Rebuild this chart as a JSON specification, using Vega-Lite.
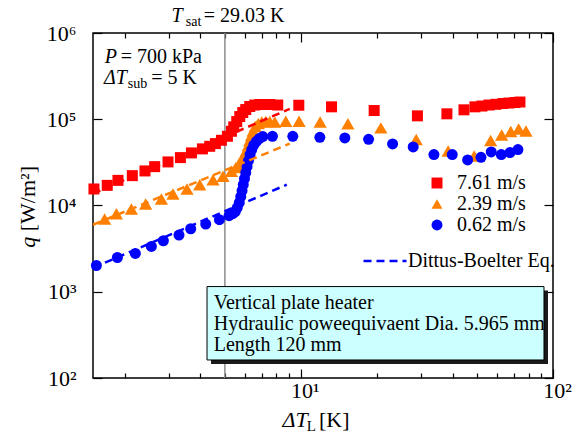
{
  "$schema": "https://vega.github.io/schema/vega-lite/v6.json",
  "width": 460,
  "height": 345,
  "autosize": {"type": "none"},
  "padding": {"left": 93, "top": 33, "right": 30, "bottom": 60},
  "background": "white",
  "datasets": {
    "pts": [
      {"s": "7.61 m/s", "x": 1.513, "q": 15550}, {"s": "7.61 m/s", "x": 1.708, "q": 17120}, {"s": "7.61 m/s", "x": 1.884, "q": 19560}, {"s": "7.61 m/s", "x": 2.148, "q": 22190}, {"s": "7.61 m/s", "x": 2.411, "q": 25160}, {"s": "7.61 m/s", "x": 2.634, "q": 28220}, {"s": "7.61 m/s", "x": 2.975, "q": 32010}, {"s": "7.61 m/s", "x": 3.332, "q": 35920}, {"s": "7.61 m/s", "x": 3.685, "q": 40720}, {"s": "7.61 m/s", "x": 4.073, "q": 45330}, {"s": "7.61 m/s", "x": 4.355, "q": 48580}, {"s": "7.61 m/s", "x": 4.586, "q": 52210}, {"s": "7.61 m/s", "x": 4.845, "q": 57040}, {"s": "7.61 m/s", "x": 5.118, "q": 63480}, {"s": "7.61 m/s", "x": 5.309, "q": 72550}, {"s": "7.61 m/s", "x": 5.422, "q": 81590}, {"s": "7.61 m/s", "x": 5.572, "q": 94040}, {"s": "7.61 m/s", "x": 5.728, "q": 107500}, {"s": "7.61 m/s", "x": 5.887, "q": 119600}, {"s": "7.61 m/s", "x": 6.05, "q": 129600}, {"s": "7.61 m/s", "x": 6.275, "q": 140500}, {"s": "7.61 m/s", "x": 6.569, "q": 146200}, {"s": "7.61 m/s", "x": 6.877, "q": 148200}, {"s": "7.61 m/s", "x": 7.195, "q": 148200}, {"s": "7.61 m/s", "x": 7.534, "q": 148200}, {"s": "7.61 m/s", "x": 8.103, "q": 146200}, {"s": "7.61 m/s", "x": 9.82, "q": 145400}, {"s": "7.61 m/s", "x": 13.24, "q": 139300}, {"s": "7.61 m/s", "x": 19.54, "q": 126200}, {"s": "7.61 m/s", "x": 29.0, "q": 109500}, {"s": "7.61 m/s", "x": 37.96, "q": 115600}, {"s": "7.61 m/s", "x": 44.36, "q": 128600}, {"s": "7.61 m/s", "x": 49.04, "q": 139300}, {"s": "7.61 m/s", "x": 52.27, "q": 142300}, {"s": "7.61 m/s", "x": 55.72, "q": 146200}, {"s": "7.61 m/s", "x": 59.41, "q": 149000}, {"s": "7.61 m/s", "x": 63.34, "q": 152200}, {"s": "7.61 m/s", "x": 66.9, "q": 154200}, {"s": "7.61 m/s", "x": 70.68, "q": 156300}, {"s": "7.61 m/s", "x": 73.96, "q": 158400},
      {"s": "2.39 m/s", "x": 1.668, "q": 6970}, {"s": "2.39 m/s", "x": 1.857, "q": 8030}, {"s": "2.39 m/s", "x": 2.129, "q": 9110}, {"s": "2.39 m/s", "x": 2.426, "q": 10410}, {"s": "2.39 m/s", "x": 2.801, "q": 11900}, {"s": "2.39 m/s", "x": 3.113, "q": 13600}, {"s": "2.39 m/s", "x": 3.538, "q": 15550}, {"s": "2.39 m/s", "x": 3.974, "q": 17440}, {"s": "2.39 m/s", "x": 4.487, "q": 19940}, {"s": "2.39 m/s", "x": 4.917, "q": 21780}, {"s": "2.39 m/s", "x": 5.309, "q": 24890}, {"s": "2.39 m/s", "x": 5.523, "q": 27480}, {"s": "2.39 m/s", "x": 5.675, "q": 29780}, {"s": "2.39 m/s", "x": 5.817, "q": 33140}, {"s": "2.39 m/s", "x": 5.94, "q": 37880}, {"s": "2.39 m/s", "x": 6.088, "q": 43300}, {"s": "2.39 m/s", "x": 6.19, "q": 49500}, {"s": "2.39 m/s", "x": 6.275, "q": 56570}, {"s": "2.39 m/s", "x": 6.374, "q": 64670}, {"s": "2.39 m/s", "x": 6.467, "q": 72950}, {"s": "2.39 m/s", "x": 6.598, "q": 82260}, {"s": "2.39 m/s", "x": 6.781, "q": 89130}, {"s": "2.39 m/s", "x": 7.0, "q": 92800}, {"s": "2.39 m/s", "x": 7.262, "q": 94040}, {"s": "2.39 m/s", "x": 7.534, "q": 94040}, {"s": "2.39 m/s", "x": 7.886, "q": 92800}, {"s": "2.39 m/s", "x": 8.719, "q": 94800}, {"s": "2.39 m/s", "x": 9.846, "q": 94800}, {"s": "2.39 m/s", "x": 11.93, "q": 92800}, {"s": "2.39 m/s", "x": 15.37, "q": 88670}, {"s": "2.39 m/s", "x": 20.77, "q": 79450}, {"s": "2.39 m/s", "x": 28.68, "q": 58100}, {"s": "2.39 m/s", "x": 38.41, "q": 42730}, {"s": "2.39 m/s", "x": 48.68, "q": 37580}, {"s": "2.39 m/s", "x": 56.59, "q": 56570}, {"s": "2.39 m/s", "x": 62.58, "q": 65540}, {"s": "2.39 m/s", "x": 68.0, "q": 71960}, {"s": "2.39 m/s", "x": 73.1, "q": 76940}, {"s": "2.39 m/s", "x": 78.15, "q": 72950},
      {"s": "0.62 m/s", "x": 1.547, "q": 2015}, {"s": "0.62 m/s", "x": 1.874, "q": 2496}, {"s": "0.62 m/s", "x": 2.208, "q": 2778}, {"s": "0.62 m/s", "x": 2.556, "q": 3350}, {"s": "0.62 m/s", "x": 2.852, "q": 3901}, {"s": "0.62 m/s", "x": 3.289, "q": 4544}, {"s": "0.62 m/s", "x": 3.66, "q": 5377}, {"s": "0.62 m/s", "x": 4.198, "q": 6098}, {"s": "0.62 m/s", "x": 4.757, "q": 6842}, {"s": "0.62 m/s", "x": 5.194, "q": 7612}, {"s": "0.62 m/s", "x": 5.373, "q": 8030}, {"s": "0.62 m/s", "x": 5.497, "q": 8472}, {"s": "0.62 m/s", "x": 5.598, "q": 9428}, {"s": "0.62 m/s", "x": 5.702, "q": 10780}, {"s": "0.62 m/s", "x": 5.781, "q": 12650}, {"s": "0.62 m/s", "x": 5.85, "q": 14860}, {"s": "0.62 m/s", "x": 5.914, "q": 17440}, {"s": "0.62 m/s", "x": 5.98, "q": 20480}, {"s": "0.62 m/s", "x": 6.05, "q": 24040}, {"s": "0.62 m/s", "x": 6.123, "q": 28220}, {"s": "0.62 m/s", "x": 6.202, "q": 33140}, {"s": "0.62 m/s", "x": 6.292, "q": 38900}, {"s": "0.62 m/s", "x": 6.391, "q": 44470}, {"s": "0.62 m/s", "x": 6.509, "q": 50150}, {"s": "0.62 m/s", "x": 6.659, "q": 55080}, {"s": "0.62 m/s", "x": 6.844, "q": 59690}, {"s": "0.62 m/s", "x": 7.067, "q": 62950}, {"s": "0.62 m/s", "x": 7.722, "q": 63480}, {"s": "0.62 m/s", "x": 9.296, "q": 63480}, {"s": "0.62 m/s", "x": 11.9, "q": 61800}, {"s": "0.62 m/s", "x": 14.95, "q": 60820}, {"s": "0.62 m/s", "x": 18.57, "q": 58580}, {"s": "0.62 m/s", "x": 23.12, "q": 51800}, {"s": "0.62 m/s", "x": 27.9, "q": 47800}, {"s": "0.62 m/s", "x": 33.72, "q": 38900}, {"s": "0.62 m/s", "x": 39.86, "q": 38900}, {"s": "0.62 m/s", "x": 45.87, "q": 33770}, {"s": "0.62 m/s", "x": 51.81, "q": 36210}, {"s": "0.62 m/s", "x": 56.9, "q": 41820}, {"s": "0.62 m/s", "x": 62.36, "q": 38900}, {"s": "0.62 m/s", "x": 67.5, "q": 41040}, {"s": "0.62 m/s", "x": 72.6, "q": 44470}
    ],
    "db": [
      {"s": "7.61 m/s", "eq": "Dittus-Boelter Eq.", "x": 1.5, "q": 13710}, {"s": "7.61 m/s", "eq": "Dittus-Boelter Eq.", "x": 9.04, "q": 132060},
      {"s": "2.39 m/s", "eq": "Dittus-Boelter Eq.", "x": 1.5, "q": 5984}, {"s": "2.39 m/s", "eq": "Dittus-Boelter Eq.", "x": 9.04, "q": 52210},
      {"s": "0.62 m/s", "eq": "Dittus-Boelter Eq.", "x": 1.5, "q": 1895}, {"s": "0.62 m/s", "eq": "Dittus-Boelter Eq.", "x": 8.8, "q": 17440}
    ],
    "box": [{"x": 4.248, "x2": 92.1, "q": 161.8, "q2": 1149}]
  },
  "layer": [
    {
      "data": {"values": [{"x": 5}]},
      "mark": {"type": "rule", "color": "#8c8c8c", "strokeWidth": 1.5},
      "encoding": {"x": {"field": "x", "type": "quantitative", "scale": {"type": "log", "domain": [1.5, 100], "nice": false}, "axis": null}}
    },
    {
      "data": {"name": "pts"},
      "transform": [{"filter": "datum.s == '7.61 m/s'"}],
      "mark": {"type": "point", "filled": true, "opacity": 1, "strokeWidth": 0, "size": 121},
      "encoding": {
        "x": {"field": "x", "type": "quantitative", "scale": {"type": "log", "domain": [1.5, 100], "nice": false},
          "axis": {"orient": "bottom", "title": null, "values": [2, 3, 4, 5, 6, 7, 8, 9, 10, 20, 30, 40, 50, 60, 70, 80, 90, 100],
            "labelExpr": "datum.value == 10 ? '10¹' : datum.value == 100 ? '10²' : ''",
            "tickSize": {"condition": {"test": "datum.value == 10 || datum.value == 100", "value": -9}, "value": -5},
            "labelPadding": 11, "labelOffset": 4, "labelFlush": false, "labelOverlap": false, "labelBaseline": "top"}},
        "y": {"field": "q", "type": "quantitative", "scale": {"type": "log", "domain": [100, 1000000], "nice": false},
          "axis": {"orient": "left", "title": null, "values": [100, 1000, 10000, 100000, 1000000],
            "labelExpr": "datum.value == 100 ? '10²' : datum.value == 1000 ? '10³' : datum.value == 10000 ? '10⁴' : datum.value == 100000 ? '10⁵' : '10⁶'",
            "tickSize": -9, "labelPadding": 26, "labelFlush": false, "labelOverlap": false}},
        "color": {"field": "s", "type": "nominal", "scale": {"domain": ["7.61 m/s", "2.39 m/s", "0.62 m/s"], "range": ["#ff0000", "#ff8000", "#0000ff"]},
          "legend": {"orient": "none", "legendX": 334, "legendY": 140, "title": null, "symbolSize": 120, "labelOffset": 10, "rowPadding": 1, "padding": 0, "labelFontSize": 20}},
        "shape": {"field": "s", "type": "nominal", "scale": {"domain": ["7.61 m/s", "2.39 m/s", "0.62 m/s"], "range": ["square", "triangle-up", "circle"]},
          "legend": {"orient": "none", "legendX": 334, "legendY": 140, "title": null, "symbolSize": 120, "labelOffset": 10, "rowPadding": 1, "padding": 0, "labelFontSize": 20}}
      }
    },
    {
      "data": {"name": "pts"},
      "transform": [{"filter": "datum.s == '2.39 m/s'"}],
      "mark": {"type": "point", "filled": true, "opacity": 1, "strokeWidth": 0, "size": 175},
      "encoding": {
        "x": {"field": "x", "type": "quantitative", "scale": {"type": "log", "domain": [1.5, 100], "nice": false}, "axis": null},
        "y": {"field": "q", "type": "quantitative", "scale": {"type": "log", "domain": [100, 1000000], "nice": false}, "axis": null},
        "color": {"field": "s", "type": "nominal", "scale": {"domain": ["7.61 m/s", "2.39 m/s", "0.62 m/s"], "range": ["#ff0000", "#ff8000", "#0000ff"]},
          "legend": {"orient": "none", "legendX": 334, "legendY": 140, "title": null, "symbolSize": 120, "labelOffset": 10, "rowPadding": 1, "padding": 0, "labelFontSize": 20}},
        "shape": {"field": "s", "type": "nominal", "scale": {"domain": ["7.61 m/s", "2.39 m/s", "0.62 m/s"], "range": ["square", "triangle-up", "circle"]},
          "legend": {"orient": "none", "legendX": 334, "legendY": 140, "title": null, "symbolSize": 120, "labelOffset": 10, "rowPadding": 1, "padding": 0, "labelFontSize": 20}}
      }
    },
    {
      "data": {"name": "pts"},
      "transform": [{"filter": "datum.s == '0.62 m/s'"}],
      "mark": {"type": "point", "filled": true, "opacity": 1, "strokeWidth": 0, "size": 121},
      "encoding": {
        "x": {"field": "x", "type": "quantitative", "scale": {"type": "log", "domain": [1.5, 100], "nice": false}, "axis": null},
        "y": {"field": "q", "type": "quantitative", "scale": {"type": "log", "domain": [100, 1000000], "nice": false}, "axis": null},
        "color": {"field": "s", "type": "nominal", "scale": {"domain": ["7.61 m/s", "2.39 m/s", "0.62 m/s"], "range": ["#ff0000", "#ff8000", "#0000ff"]},
          "legend": {"orient": "none", "legendX": 334, "legendY": 140, "title": null, "symbolSize": 120, "labelOffset": 10, "rowPadding": 1, "padding": 0, "labelFontSize": 20}},
        "shape": {"field": "s", "type": "nominal", "scale": {"domain": ["7.61 m/s", "2.39 m/s", "0.62 m/s"], "range": ["square", "triangle-up", "circle"]},
          "legend": {"orient": "none", "legendX": 334, "legendY": 140, "title": null, "symbolSize": 120, "labelOffset": 10, "rowPadding": 1, "padding": 0, "labelFontSize": 20}}
      }
    },
    {
      "data": {"name": "db"},
      "transform": [{"filter": "datum.s == '7.61 m/s'"}],
      "mark": {"type": "line", "color": "#ff0000", "strokeWidth": 2.5, "strokeDash": [8, 5]},
      "encoding": {
        "x": {"field": "x", "type": "quantitative", "scale": {"type": "log", "domain": [1.5, 100], "nice": false}, "axis": null},
        "y": {"field": "q", "type": "quantitative", "scale": {"type": "log", "domain": [100, 1000000], "nice": false}, "axis": null}
      }
    },
    {
      "data": {"name": "db"},
      "transform": [{"filter": "datum.s == '2.39 m/s'"}],
      "mark": {"type": "line", "color": "#ff8000", "strokeWidth": 2.5, "strokeDash": [8, 5]},
      "encoding": {
        "x": {"field": "x", "type": "quantitative", "scale": {"type": "log", "domain": [1.5, 100], "nice": false}, "axis": null},
        "y": {"field": "q", "type": "quantitative", "scale": {"type": "log", "domain": [100, 1000000], "nice": false}, "axis": null}
      }
    },
    {
      "data": {"name": "db"},
      "transform": [{"filter": "datum.s == '0.62 m/s'"}],
      "mark": {"type": "line", "color": "#0000ff", "strokeWidth": 2.5},
      "encoding": {
        "x": {"field": "x", "type": "quantitative", "scale": {"type": "log", "domain": [1.5, 100], "nice": false}, "axis": null},
        "y": {"field": "q", "type": "quantitative", "scale": {"type": "log", "domain": [100, 1000000], "nice": false}, "axis": null},
        "strokeDash": {"field": "eq", "type": "nominal", "scale": {"domain": ["Dittus-Boelter Eq."], "range": [[8, 5]]},
          "legend": {"orient": "none", "legendX": 269, "legendY": 205, "title": null, "symbolSize": 1849, "symbolStrokeColor": "#0000ff", "symbolStrokeWidth": 2.5, "symbolDash": [8, 5], "labelOffset": 0, "padding": 0, "labelFontSize": 20}}
      }
    },
    {
      "data": {"name": "box"},
      "mark": {"type": "rect", "fill": "#1a1a1a", "xOffset": 4, "x2Offset": 4, "yOffset": 4, "y2Offset": 4},
      "encoding": {
        "x": {"field": "x", "type": "quantitative", "scale": {"type": "log", "domain": [1.5, 100], "nice": false}, "axis": null},
        "x2": {"field": "x2"},
        "y": {"field": "q", "type": "quantitative", "scale": {"type": "log", "domain": [100, 1000000], "nice": false}, "axis": null},
        "y2": {"field": "q2"}
      }
    },
    {
      "data": {"name": "box"},
      "mark": {"type": "rect", "fill": "#ccffff", "stroke": "black", "strokeWidth": 1},
      "encoding": {
        "x": {"field": "x", "type": "quantitative", "scale": {"type": "log", "domain": [1.5, 100], "nice": false}, "axis": null},
        "x2": {"field": "x2"},
        "y": {"field": "q", "type": "quantitative", "scale": {"type": "log", "domain": [100, 1000000], "nice": false}, "axis": null},
        "y2": {"field": "q2"}
      }
    },
    {
      "data": {"values": [{"x": 4.517, "q": 633, "t": ["Vertical plate heater", "Hydraulic poweequivaent Dia. 5.965 mm", "Length 120 mm"]}]},
      "mark": {"type": "text", "align": "left", "baseline": "alphabetic", "fontSize": 20, "lineHeight": 21, "color": "black"},
      "encoding": {
        "x": {"field": "x", "type": "quantitative", "scale": {"type": "log", "domain": [1.5, 100], "nice": false}, "axis": null},
        "y": {"field": "q", "type": "quantitative", "scale": {"type": "log", "domain": [100, 1000000], "nice": false}, "axis": null},
        "text": {"field": "t", "type": "nominal"}
      }
    },
    {
      "data": {"values": [{"x": 3.068, "q": 1338700, "t": "T"}, {"x": 1.668, "q": 443600, "t": "P"}, {"x": 1.657, "q": 257700, "t": "ΔT"}]},
      "mark": {"type": "text", "align": "left", "baseline": "alphabetic", "fontSize": 20, "fontStyle": "italic", "color": "black"},
      "encoding": {
        "x": {"field": "x", "type": "quantitative", "scale": {"type": "log", "domain": [1.5, 100], "nice": false}, "axis": null},
        "y": {"field": "q", "type": "quantitative", "scale": {"type": "log", "domain": [100, 1000000], "nice": false}, "axis": null},
        "text": {"field": "t", "type": "nominal"}
      }
    },
    {
      "data": {"values": [{"x": 4.122, "q": 1338700, "t": "= 29.03 K"}, {"x": 1.931, "q": 443600, "t": "= 700 kPa"}, {"x": 2.551, "q": 257700, "t": "= 5 K"}]},
      "mark": {"type": "text", "align": "left", "baseline": "alphabetic", "fontSize": 20, "color": "black"},
      "encoding": {
        "x": {"field": "x", "type": "quantitative", "scale": {"type": "log", "domain": [1.5, 100], "nice": false}, "axis": null},
        "y": {"field": "q", "type": "quantitative", "scale": {"type": "log", "domain": [100, 1000000], "nice": false}, "axis": null},
        "text": {"field": "t", "type": "nominal"}
      }
    },
    {
      "data": {"values": [{"x": 3.498, "q": 1193000, "t": "sat"}, {"x": 2.059, "q": 227300, "t": "sub"}]},
      "mark": {"type": "text", "align": "left", "baseline": "alphabetic", "fontSize": 14, "color": "black"},
      "encoding": {
        "x": {"field": "x", "type": "quantitative", "scale": {"type": "log", "domain": [1.5, 100], "nice": false}, "axis": null},
        "y": {"field": "q", "type": "quantitative", "scale": {"type": "log", "domain": [100, 1000000], "nice": false}, "axis": null},
        "text": {"field": "t", "type": "nominal"}
      }
    },
    {
      "data": {"values": [{"x": 8.462, "q": 26.97, "t": "ΔT"}]},
      "mark": {"type": "text", "align": "left", "baseline": "alphabetic", "fontSize": 22, "fontStyle": "italic", "color": "black"},
      "encoding": {
        "x": {"field": "x", "type": "quantitative", "scale": {"type": "log", "domain": [1.5, 100], "nice": false}, "axis": null},
        "y": {"field": "q", "type": "quantitative", "scale": {"type": "log", "domain": [100, 1000000], "nice": false}, "axis": null},
        "text": {"field": "t", "type": "nominal"}
      }
    },
    {
      "data": {"values": [{"x": 10.56, "q": 24.23, "t": "L"}]},
      "mark": {"type": "text", "align": "left", "baseline": "alphabetic", "fontSize": 15, "color": "black"},
      "encoding": {
        "x": {"field": "x", "type": "quantitative", "scale": {"type": "log", "domain": [1.5, 100], "nice": false}, "axis": null},
        "y": {"field": "q", "type": "quantitative", "scale": {"type": "log", "domain": [100, 1000000], "nice": false}, "axis": null},
        "text": {"field": "t", "type": "nominal"}
      }
    },
    {
      "data": {"values": [{"x": 11.8, "q": 26.97, "t": "[K]"}]},
      "mark": {"type": "text", "align": "left", "baseline": "alphabetic", "fontSize": 22, "color": "black"},
      "encoding": {
        "x": {"field": "x", "type": "quantitative", "scale": {"type": "log", "domain": [1.5, 100], "nice": false}, "axis": null},
        "y": {"field": "q", "type": "quantitative", "scale": {"type": "log", "domain": [100, 1000000], "nice": false}, "axis": null},
        "text": {"field": "t", "type": "nominal"}
      }
    },
    {
      "data": {"values": [{"x": 0.88, "q": 3235, "t": "q"}]},
      "mark": {"type": "text", "align": "left", "baseline": "alphabetic", "fontSize": 22, "fontStyle": "italic", "angle": 270, "color": "black"},
      "encoding": {
        "x": {"field": "x", "type": "quantitative", "scale": {"type": "log", "domain": [1.5, 100], "nice": false}, "axis": null},
        "y": {"field": "q", "type": "quantitative", "scale": {"type": "log", "domain": [100, 1000000], "nice": false}, "axis": null},
        "text": {"field": "t", "type": "nominal"}
      }
    },
    {
      "data": {"values": [{"x": 0.88, "q": 5030, "t": "[W/m²]"}]},
      "mark": {"type": "text", "align": "left", "baseline": "alphabetic", "fontSize": 22, "angle": 270, "color": "black"},
      "encoding": {
        "x": {"field": "x", "type": "quantitative", "scale": {"type": "log", "domain": [1.5, 100], "nice": false}, "axis": null},
        "y": {"field": "q", "type": "quantitative", "scale": {"type": "log", "domain": [100, 1000000], "nice": false}, "axis": null},
        "text": {"field": "t", "type": "nominal"}
      }
    },
    {
      "data": {"values": [{"x": 10, "q": 1000}]},
      "mark": {"type": "point", "opacity": 0},
      "encoding": {
        "x": {"field": "x", "type": "quantitative", "scale": {"type": "log", "domain": [1.5, 100], "nice": false},
          "axis": {"orient": "top", "title": null, "labels": false, "values": [2, 3, 4, 5, 6, 7, 8, 9, 10, 20, 30, 40, 50, 60, 70, 80, 90, 100],
            "tickSize": {"condition": {"test": "datum.value == 10 || datum.value == 100", "value": -9}, "value": -5}}},
        "y": {"field": "q", "type": "quantitative", "scale": {"type": "log", "domain": [100, 1000000], "nice": false},
          "axis": {"orient": "right", "title": null, "labels": false, "values": [100, 1000, 10000, 100000, 1000000], "tickSize": -9}}
      }
    }
  ],
  "resolve": {"axis": {"x": "independent", "y": "independent"}},
  "config": {
    "font": "Liberation Serif",
    "view": {"stroke": "black", "strokeWidth": 1.5},
    "axis": {"domain": false, "grid": false, "labelFont": "Liberation Serif", "labelFontSize": 22, "labelColor": "black", "tickColor": "black", "tickWidth": 1.2},
    "legend": {"labelFont": "Liberation Serif", "labelFontSize": 20, "labelColor": "black", "labelLimit": 300},
    "text": {"font": "Liberation Serif"}
  }
}
